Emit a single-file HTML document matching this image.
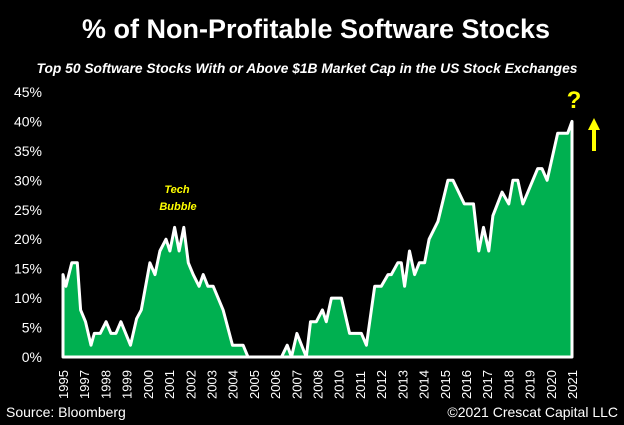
<!DOCTYPE html>
<html><head><meta charset="utf-8"><style>
body{margin:0;background:#000;width:624px;height:425px;overflow:hidden;font-family:"Liberation Sans",sans-serif;}
svg{display:block}
</style></head><body>
<svg width="624" height="425">
<rect width="624" height="425" fill="#000"/>
<text x="316" y="38" fill="#fff" font-size="27" font-weight="bold" text-anchor="middle">% of Non-Profitable Software Stocks</text>
<text x="307" y="73" fill="#fff" font-size="13.8" font-weight="bold" font-style="italic" text-anchor="middle">Top 50 Software Stocks With or Above $1B Market Cap in the US Stock Exchanges</text>
<g id="yaxis"></g><g id="xaxis"></g><g id="plot"></g>
<text x="177" y="193" fill="#ffff00" font-size="11" font-weight="bold" font-style="italic" text-anchor="middle"><tspan x="177" dy="0">Tech</tspan><tspan x="178" dy="17">Bubble</tspan></text>
<text x="574" y="108" fill="#ffff00" font-size="24" font-weight="bold" text-anchor="middle">?</text>
<g><polygon points="594,118 588,130 600,130" fill="#ffff00"/><rect x="592" y="129" width="4" height="22" fill="#ffff00"/></g>
<text x="6" y="417" fill="#fff" font-size="14">Source: Bloomberg</text>
<text x="618" y="417" fill="#fff" font-size="14" text-anchor="end">©2021 Crescat Capital LLC</text>
</svg>
<script>
const years=[1995.0,1995.15,1995.45,1995.73,1995.9,1996.15,1996.43,1996.6,1996.9,1997.2,1997.45,1997.7,1997.96,1998.45,1998.76,1999.0,1999.44,1999.7,1999.95,2000.26,2000.46,2000.7,2000.93,2001.17,2001.4,2001.65,2001.95,2002.16,2002.4,2002.67,2003.18,2003.66,2004.2,2004.45,2006.16,2006.45,2006.67,2006.95,2007.43,2007.64,2007.94,2008.25,2008.45,2008.71,2009.22,2009.64,2010.24,2010.5,2010.92,2011.26,2011.6,2011.77,2012.1,2012.28,2012.45,2012.7,2012.96,2013.2,2013.47,2013.7,2014.15,2014.66,2014.92,2015.5,2015.97,2016.24,2016.48,2016.75,2016.96,2017.43,2017.77,2017.98,2018.23,2018.49,2019.25,2019.47,2019.73,2020.27,2020.78,2021.0];
const values=[14,12,16,16,8,6,2,4,4,6,4,4,6,2,6.5,8,16,14,18,20,18,22,18,22,16,14,12,14,12,12,8,2,2,0,0,2,0,4,0,6,6,8,6,10,10,4,4,2,12,12,14,14,16,16,12,18,14,16,16,20,23,30,30,26,26,18,22,18,24,28,26,30,30,26,32,32,30,38,38,40];
const yTicks=[0,5,10,15,20,25,30,35,40,45];
const xLabels=["1995","1997","1998","1999","2000","2001","2002","2003","2004","2005","2006","2007","2008","2010","2011","2012","2013","2014","2015","2016","2017","2018","2019","2020","2021"];
const NS="http://www.w3.org/2000/svg";
const x0=63,x1=572,y0=357,y45=92;
const xs=y=>x0+(y-1995)/(2021-1995)*(x1-x0);
const ys=v=>y0-v/45*(y0-y45);
const ya=document.getElementById('yaxis');
yTicks.forEach(t=>{const e=document.createElementNS(NS,'text');
e.setAttribute('x',42);e.setAttribute('y',ys(t)+5);e.setAttribute('fill','#fff');e.setAttribute('font-size','14');e.setAttribute('text-anchor','end');
e.textContent=t+'%';


ya.appendChild(e);});
const xa=document.getElementById('xaxis');
xLabels.forEach((l,i)=>{const px=x0+i*(x1-x0)/(xLabels.length-1);const e=document.createElementNS(NS,'text');
e.setAttribute('transform','translate('+(px+5)+',399) rotate(-90)');e.setAttribute('fill','#fff');e.setAttribute('font-size','13');
e.textContent=l;


xa.appendChild(e);});
const pl=document.getElementById('plot');
let pts=years.map((y,i)=>xs(y).toFixed(1)+','+ys(values[i]).toFixed(1));
const area=document.createElementNS(NS,'polygon');
area.setAttribute('points',xs(years[0])+','+y0+' '+pts.join(' ')+' '+xs(years[years.length-1])+','+y0);
area.setAttribute('fill','#00b050');area.setAttribute('stroke','#fff');area.setAttribute('stroke-width','3');area.setAttribute('stroke-linejoin','round');


pl.appendChild(area);
</script>
</body></html>
